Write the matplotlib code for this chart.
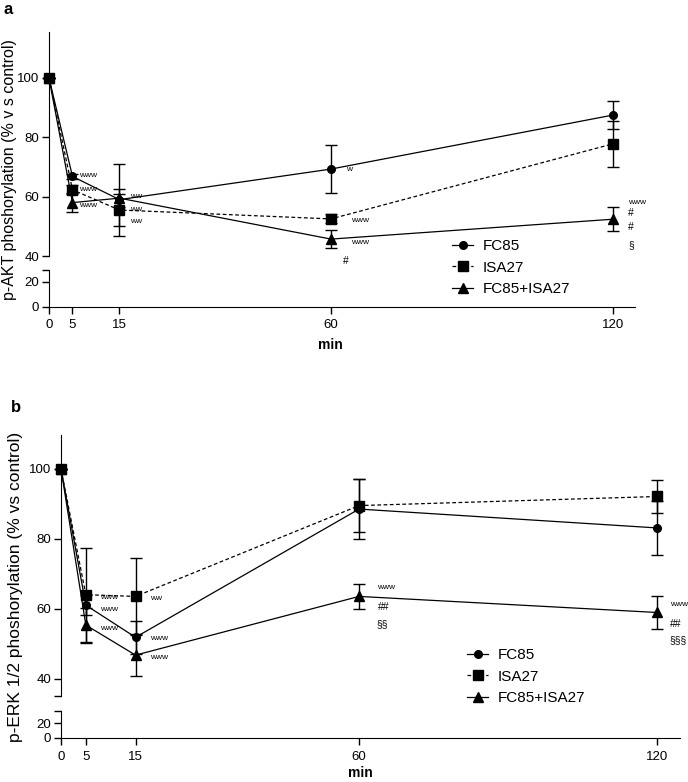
import numpy as np
import matplotlib
matplotlib.use("Agg")
import matplotlib.pyplot as plt
from matplotlib.lines import Line2D

plt.rcParams['font.family'] = ['Liberation Sans', 'DejaVu Sans']

# Data
times = [0, 5, 15, 60, 120]
series = ["FC85", "ISA27", "FC85+ISA27"]

akt_fc85 = [100, 66.8, 59.0, 69.3, 87.5]
akt_fc85_err = [0, 1.0, 12.1, 8.0, 4.6]
akt_isa27 = [100, 62.3, 55.5, 52.5, 77.8]
akt_isa27_err = [0, 1.5, 5.5, 1.5, 7.8]
akt_combo = [100, 58.0, 59.5, 45.7, 52.4]
akt_combo_err = [0, 3.3, 3.0, 3.0, 4.0]

erk_fc85 = [100, 61.0, 51.8, 88.5, 83.1]
erk_fc85_err = [0, 2.8, 4.7, 8.5, 7.7]
erk_isa27 = [100, 64.0, 63.5, 89.5, 92.1]
erk_isa27_err = [0, 13.5, 11.0, 7.5, 4.8]
erk_combo = [100, 55.3, 46.7, 63.5, 58.9]
erk_combo_err = [0, 5.0, 6.0, 3.5, 4.8]

# significance marks (time, value, text)
akt_marks = [(6.4, 67, "www"), (6.4, 62.3, "www"), (6.4, 57.0, "www"),
             (17.3, 60.2, "ww"), (17.3, 55.8, "ww"), (17.3, 51.5, "ww"),
             (63.1, 69, "w"), (64.2, 52.1, "www"), (64.2, 44.4, "www"), (62.5, 38.3, "#"),
             (123.2, 58.2, "www"), (123.2, 54.5, "#"), (123.2, 49.8, "#"), (123.2, 43.7, "§")]
erk_marks = [(7.8, 63.1, "www"), (7.8, 59.7, "www"), (7.8, 54.3, "www"),
             (17.9, 62.9, "ww"), (17.9, 51.4, "www"), (17.9, 46.0, "www"),
             (63.7, 66.0, "www"), (63.7, 60.6, "##"), (63.5, 55.7, "§§"),
             (122.6, 61.1, "www"), (122.6, 55.7, "##"), (122.4, 50.9, "§§§")]

W, H = 688, 782
fig = plt.figure(figsize=(W / 100, H / 100), dpi=100)


def px_axes(left, top, right, bottom):
    return fig.add_axes([left / W, 1 - bottom / H, (right - left) / W, (bottom - top) / H])


styles = [dict(marker='o', ms=5.5, ls='-'),
          dict(marker='s', ms=6.5, ls=(0, (3, 2))),
          dict(marker='^', ms=6.5, ls='-')]


def panel(box_up, box_low, xmax, ylim_up, ylim_low, up_ticks, low_ticks, data, marks,
          ylabel, label_x, letter, letter_xy, min_xy, leg_xy, ysize):
    up = px_axes(*box_up)
    low = px_axes(*box_low)
    for ax in (up, low):
        ax.set_xlim(0, xmax)
        for s in ['top', 'right']:
            ax.spines[s].set_visible(False)
        ax.tick_params(direction='out', length=5, width=1, labelsize=9.5, pad=2)
        ax.patch.set_alpha(0)
    up.spines['bottom'].set_visible(False)
    up.set_xticks([])
    up.set_ylim(*ylim_up)
    low.set_ylim(*ylim_low)
    up.set_yticks(up_ticks, [str(t) if t % 20 == 0 else "" for t in up_ticks])
    low.set_yticks(low_ticks, [str(t) if t in (0, 20) else "" for t in low_ticks])
    low.set_xticks(times)
    low.tick_params(axis='x', labelsize=9.5, pad=4)
    handles = []
    for (vals, errs), st, name in zip(data, styles, series):
        up.errorbar(times, vals, yerr=errs, color='black', lw=0.9, capsize=4.5,
                    elinewidth=1.0, capthick=1.0, mfc='black', mec='black',
                    clip_on=False, **st)
        handles.append(Line2D([], [], color='black', lw=0.9, mfc='black', mec='black',
                              label=name, **st))
    for t, v, s in marks:
        fs = 6 if s.startswith("w") else 7.5
        up.text(t, v, s, fontsize=fs, ha='left', va='center')
    fig.text(label_x / W, 1 - ((box_up[1] + box_low[3]) / 2) / H, ylabel,
             rotation=90, ha='center', va='center', fontsize=ysize)
    fig.text(letter_xy[0] / W, 1 - letter_xy[1] / H, letter, fontsize=12,
             fontweight='bold', ha='left', va='center')
    fig.text(min_xy[0] / W, 1 - min_xy[1] / H, "min", fontsize=10,
             fontweight='bold', ha='center', va='center')
    up.legend(handles=handles, loc='upper left',
              bbox_to_anchor=(leg_xy[0] / W, 1 - leg_xy[1] / H),
              bbox_transform=fig.transFigure, frameon=False, fontsize=11,
              handlelength=1.4, handletextpad=0.6, labelspacing=0.5,
              borderpad=0, borderaxespad=0)


panel((49, 32, 635, 256), (49, 270, 635, 307), 124.7, (40, 115.5), (0, 29.6),
      [40, 60, 80, 100], [0, 20, 29.6],
      [(akt_fc85, akt_fc85_err), (akt_isa27, akt_isa27_err), (akt_combo, akt_combo_err)],
      akt_marks, "p-AKT phoshorylation (% v s control)", 10, "a", (4, 9), (330, 345),
      (452, 239), 11.5)

panel((61, 435, 680, 696), (61, 711, 680, 738), 124.6, (35, 109.7), (0, 36),
      [35, 40, 60, 80, 100], [0, 20, 36],
      [(erk_fc85, erk_fc85_err), (erk_isa27, erk_isa27_err), (erk_combo, erk_combo_err)],
      erk_marks, "p-ERK 1/2 phoshorylation (% vs control)", 16, "b", (11, 407), (360, 773),
      (467, 648), 12.5)

fig.savefig("out.png", dpi=100)
